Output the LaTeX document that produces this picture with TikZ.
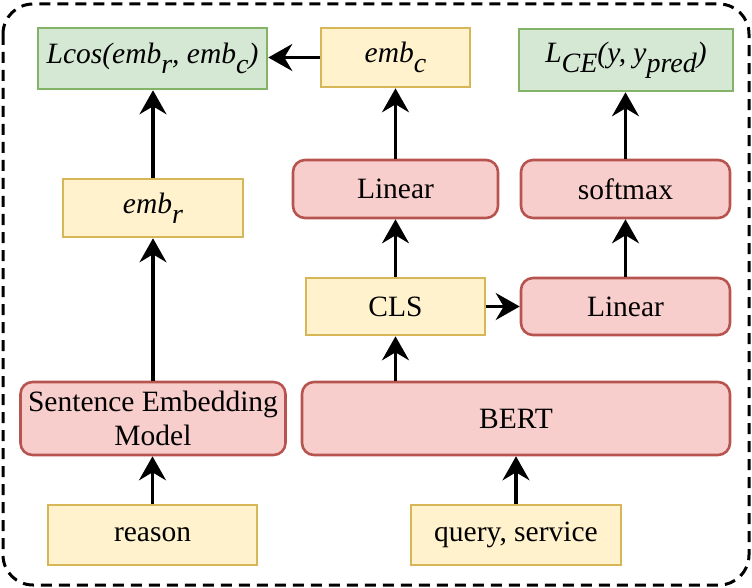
\documentclass[tikz,border=0pt]{standalone}
\usepackage{fontspec}
\setmainfont{Liberation Serif}
\usetikzlibrary{arrows.meta}
\definecolor{gfill}{HTML}{D5E8D4}\definecolor{gdraw}{HTML}{82B366}
\definecolor{yfill}{HTML}{FFF2CC}\definecolor{ydraw}{HTML}{D6B656}
\definecolor{rfill}{HTML}{F8CECC}\definecolor{rdraw}{HTML}{B85450}
\newcommand{\subs}[1]{\raisebox{-0.33em}{\fontsize{28}{28}\selectfont #1}}
\begin{document}
\begin{tikzpicture}[x=1pt,y=-1pt,
  base/.style={line width=2.6pt,inner sep=0pt,align=center,font=\fontsize{29.5}{34}\selectfont},
  gbox/.style={base,fill=gfill,draw=gdraw},
  ybox/.style={base,fill=yfill,draw=ydraw},
  rbox/.style={base,fill=rfill,draw=rdraw,rounded corners=12pt},
  arr/.style={line width=3.2pt,-{Stealth[length=24pt,width=27pt,inset=8pt]}}]
\useasboundingbox (0,0) rectangle (752,588);
\draw[line width=3pt,dash pattern=on 11pt off 7pt,rounded corners=30pt] (3,4) rectangle (749,585);
\node[gbox,minimum width=229pt,minimum height=61pt] (lcos) at (152.5,58.5) {\textit{Lcos(emb\subs{r}, emb\subs{c})}};
\node[ybox,minimum width=149pt,minimum height=59pt] (embc) at (395.5,57.5) {\textit{emb\subs{c}}};
\node[gbox,minimum width=214pt,minimum height=62pt] (lce) at (626,60) {\textit{L\subs{CE}(y, y\subs{pred})}};
\node[ybox,minimum width=180pt,minimum height=58pt] (embr) at (153,208) {\textit{emb\subs{r}}};
\node[rbox,minimum width=205pt,minimum height=58pt] (lin1) at (395.5,189) {Linear};
\node[rbox,minimum width=209pt,minimum height=58pt] (soft) at (625.5,189) {softmax};
\node[ybox,minimum width=179pt,minimum height=57pt] (cls) at (395.5,306.5) {CLS};
\node[rbox,minimum width=209pt,minimum height=57pt] (lin2) at (625.5,306.5) {Linear};
\node[rbox,minimum width=265pt,minimum height=73pt] (sem) at (153,418.5) {Sentence Embedding\\Model};
\node[rbox,minimum width=428pt,minimum height=73pt] (bert) at (516,418.5) {BERT};
\node[ybox,minimum width=209pt,minimum height=60pt] (reason) at (152.5,535) {reason};
\node[ybox,minimum width=210pt,minimum height=60pt] (query) at (516,535) {query, service};
\draw[arr] (embc.west) -- (lcos.east |- embc.west);
\draw[arr] (embr.north) -- (embr.north |- lcos.south);
\draw[arr] (sem.north) -- (embr.south);
\draw[arr] (reason.north) -- (reason.north |- sem.south);
\draw[arr] (lin1.north) -- (embc.south);
\draw[arr] (cls.north) -- (lin1.south);
\draw[arr] (cls.north |- bert.north) -- (cls.south);
\draw[arr] (query.north) -- (bert.south);
\draw[arr] (cls.east) -- (lin2.west);
\draw[arr] (lin2.north) -- (soft.south);
\draw[arr] (soft.north) -- (soft.north |- lce.south);
\end{tikzpicture}
\end{document}
